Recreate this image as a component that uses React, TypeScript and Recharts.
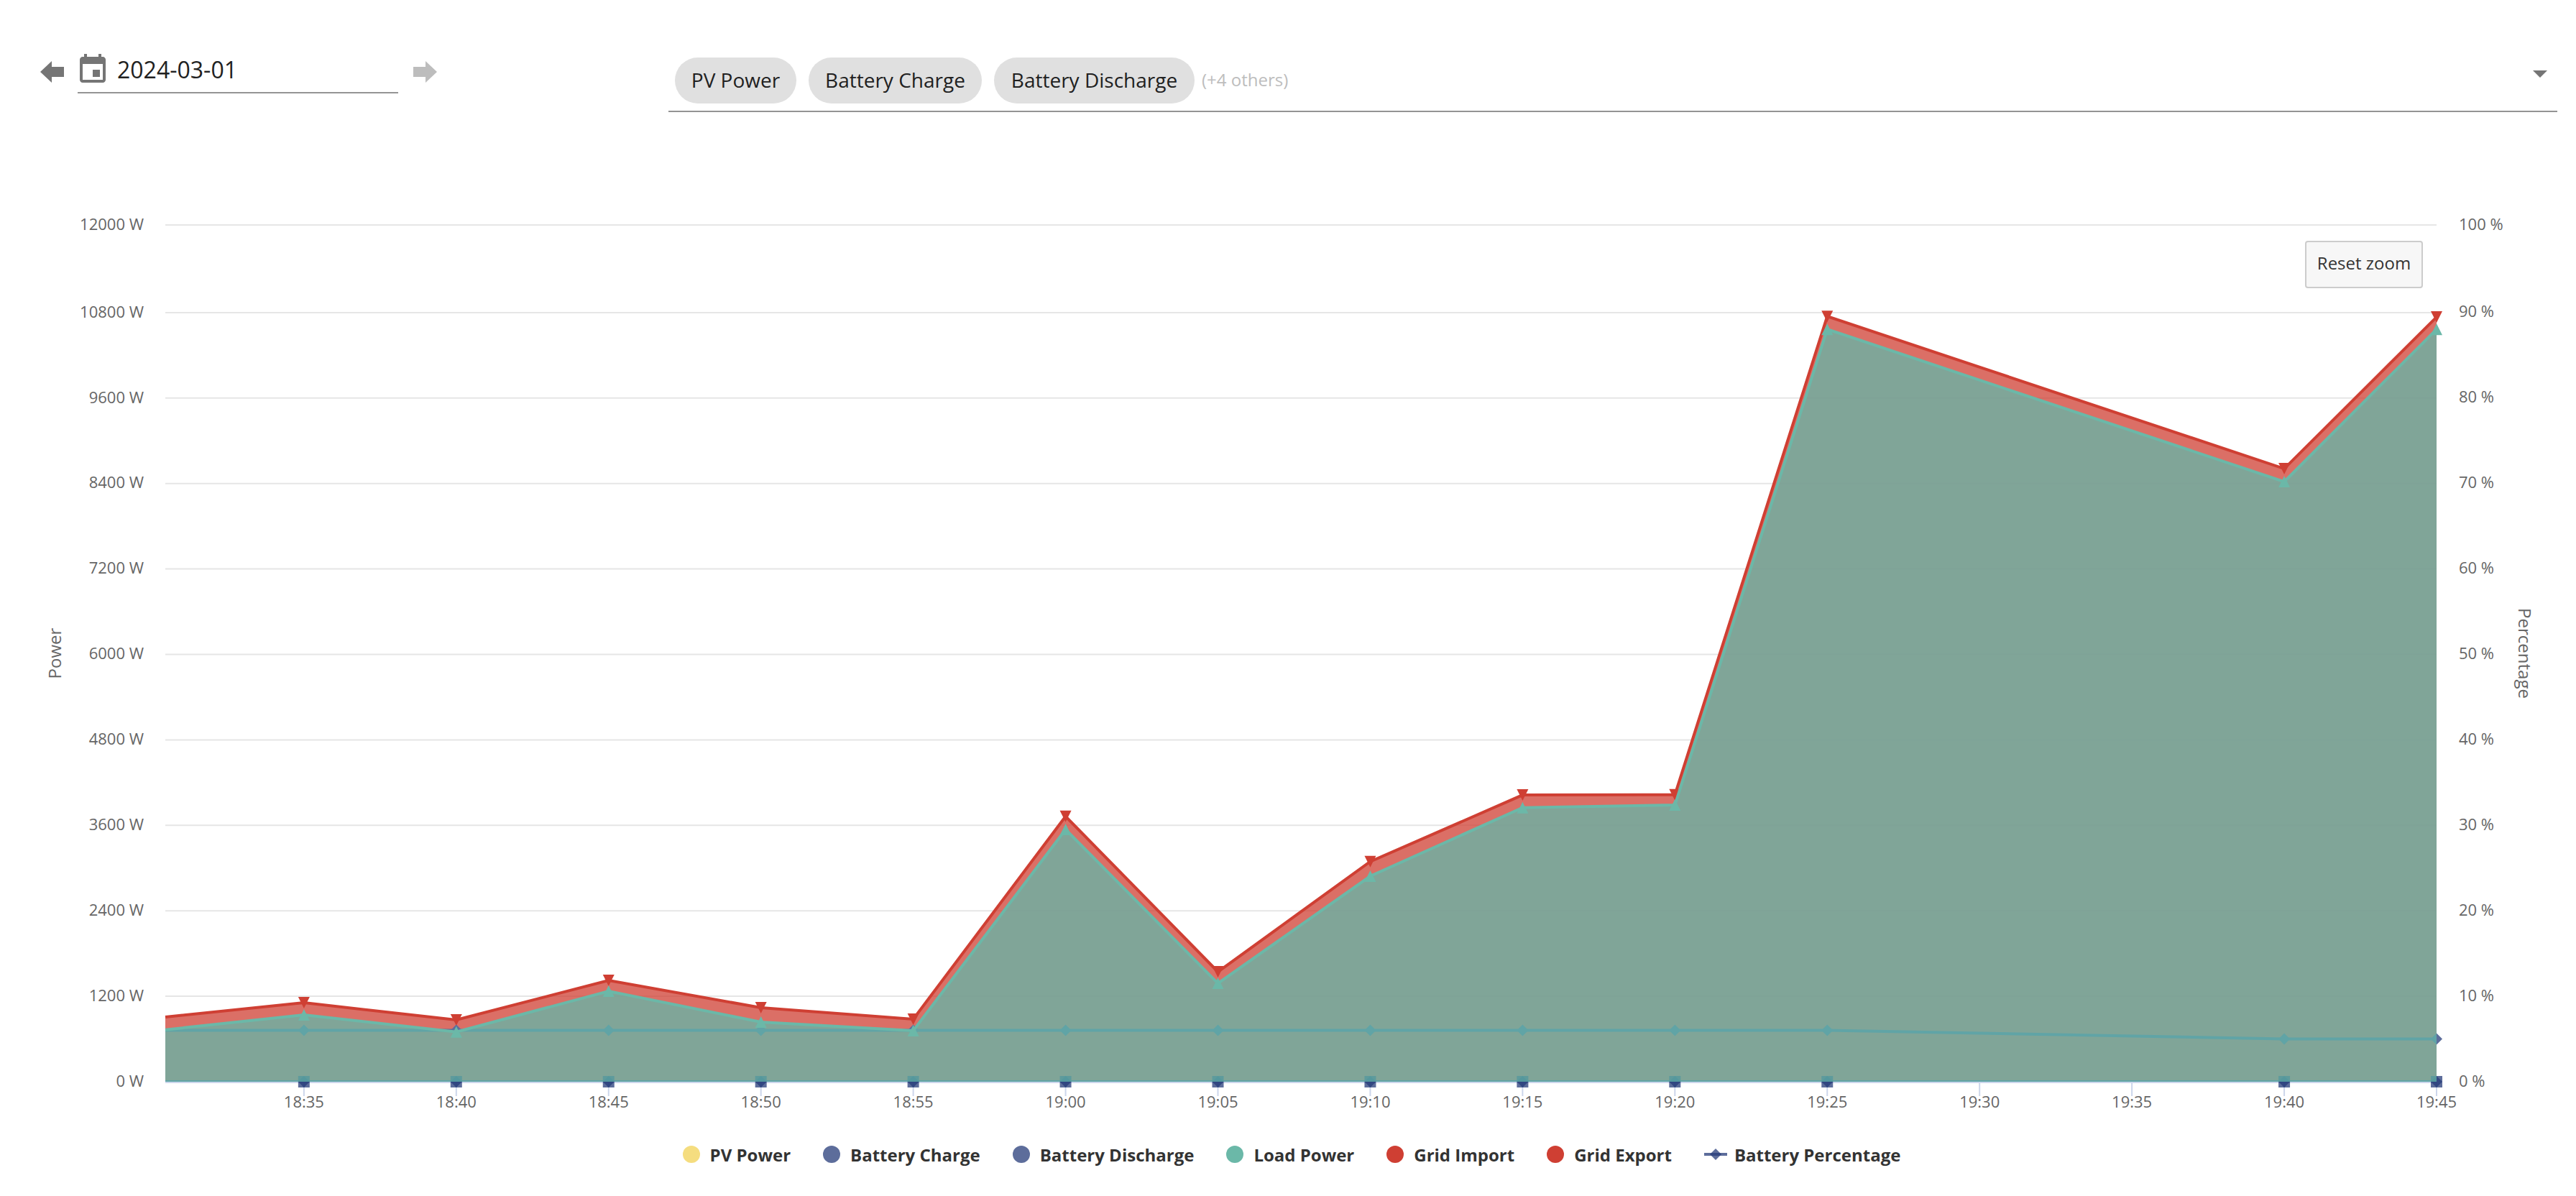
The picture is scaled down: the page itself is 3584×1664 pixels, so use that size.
import { ComposedChart, Area, Line, XAxis, YAxis, CartesianGrid, Legend } from 'recharts';

// first entry is where the zoomed view cuts the series at the left edge
const times = ['18:30:27', '18:35', '18:40', '18:45', '18:50', '18:55', '19:00', '19:05', '19:10', '19:15', '19:20', '19:25', '19:40', '19:45'];
const loadPower = [730, 938, 699, 1271, 837, 716, 3542, 1382, 2886, 3848, 3885, 10565, 8426, 10565];
const gridImport = [908, 1109, 868, 1423, 1039, 878, 3726, 1544, 3091, 4026, 4029, 10747, 8608, 10737];
const batteryCharge = [0, 0, 0, 0, 0, 0, 0, 0, 0, 0, 0, 0, 0, 0];
const batteryDischarge = [0, 0, 0, 0, 0, 0, 0, 0, 0, 0, 0, 0, 0, 0];
const batteryPercentage = [6, 6, 6, 6, 6, 6, 6, 6, 6, 6, 6, 6, 5, 5];

const xTickLabels = ['18:35', '18:40', '18:45', '18:50', '18:55', '19:00', '19:05', '19:10', '19:15', '19:20', '19:25', '19:30', '19:35', '19:40', '19:45'];
// top of both axes sits slightly above the round value
const powerTicks = [0, 1200, 2400, 3600, 4800, 6000, 7200, 8400, 9600, 10800, 12030];
const percentTicks = [0, 10, 20, 30, 40, 50, 60, 70, 80, 90, 100.16];
const legendNames = ['PV Power', 'Battery Charge', 'Battery Discharge', 'Load Power', 'Grid Import', 'Grid Export', 'Battery Percentage'];
const legendColors = ['#f5dd7f', '#5d6d9b', '#5d6d9b', '#6bb8a8', '#cf3f33', '#cf3f33', '#5d6d9b'];

const toMinutes = (t: string) => {
  const [h, m, s] = t.split(':').map(Number);
  return (h - 18) * 60 + m + (s || 0) / 60;
};

const fromMinutes = (v: number) => {
  const h = 18 + Math.floor(v / 60);
  const m = Math.round(v % 60);
  return `${h}:${String(m).padStart(2, '0')}`;
};

const chartData = times.map((t, i) => ({
  minute: toMinutes(t),
  load: loadPower[i],
  gridImport: gridImport[i],
  charge: batteryCharge[i],
  discharge: batteryDischarge[i],
  percent: batteryPercentage[i],
}));

const makeDot = (shape: string, fill: string, opacity = 1) => (props: any) => {
  const { cx, cy, index } = props;
  if (index === 0 || cx == null || cy == null) return <g key={index} />;
  const r = 8;
  const pts: Record<string, string> = {
    up: `${cx},${cy - r} ${cx + r},${cy + r} ${cx - r},${cy + r}`,
    down: `${cx - r},${cy - r} ${cx + r},${cy - r} ${cx},${cy + r}`,
    diamond: `${cx},${cy - r} ${cx + r},${cy} ${cx},${cy + r} ${cx - r},${cy}`,
    square: `${cx - r},${cy - r} ${cx + r},${cy - r} ${cx + r},${cy + r} ${cx - r},${cy + r}`,
  };
  return <polygon key={index} points={pts[shape]} fill={fill} fillOpacity={opacity} />;
};

const tickStyle = { fontSize: 22, fill: '#666666', fontFamily: 'Open Sans' };
const yTickStyle = { ...tickStyle, dy: -1 };
const titleStyle = { fontSize: 24, fill: '#666666', fontFamily: 'Open Sans', textAnchor: 'middle' as const };
const chartStyle = { position: 'absolute' as const, left: 0, top: 0 };
// zero lines stay behind the load fill, the axis line shows just below them
const zeroLineStyle = { transform: 'translateY(-1px)' };

function ChartLegend() {
  return (
    <div style={{ display: 'flex', justifyContent: 'center', alignItems: 'center', height: 64, marginLeft: -26, fontFamily: 'Open Sans', fontSize: 24, fontWeight: 700, color: '#333333' }}>
      {legendNames.map((name, i) => (
        <div key={name} style={{ display: 'flex', alignItems: 'center', marginRight: i < legendNames.length - 1 ? 45 : 0 }}>
          {name === 'Battery Percentage' ? (
            <svg width={32} height={24} style={{ marginRight: 10 }}>
              <rect x={0} y={10} width={32} height={4} fill={legendColors[i]} />
              <polygon points="16,4 24,12 16,20 8,12" fill="#273c7a" fillOpacity={0.75} />
            </svg>
          ) : (
            <svg width={24} height={24} style={{ marginRight: 14 }}>
              <circle cx={12} cy={12} r={12} fill={legendColors[i]} />
            </svg>
          )}
          <span>{name}</span>
        </div>
      ))}
    </div>
  );
}

const chip = (text: string, left: number, width: number) => (
  <div style={{ position: 'absolute', left, top: 80, width, height: 64, borderRadius: 32, background: '#e0e0e0', color: '#212121', fontSize: 28, lineHeight: '62px', textAlign: 'center' }}>
    {text}
  </div>
);

export default function App() {
  return (
    <div style={{ position: 'absolute', left: 0, top: 0, width: 3584, height: 1664, background: '#fff', fontFamily: 'Open Sans', overflow: 'hidden' }}>
      {/* date picker */}
      <svg style={{ position: 'absolute', left: 50, top: 80 }} width={44} height={40}>
        <polygon points="6,20 22,5 22,13 39,13 39,27 22,27 22,35" fill="#757575" />
      </svg>
      <svg style={{ position: 'absolute', left: 105, top: 73 }} width={48} height={48} viewBox="0 0 24 24">
        <path d="M17 12h-5v5h5v-5zM16 1v2H8V1H6v2H5c-1.11 0-1.99.9-1.99 2L3 19c0 1.1.89 2 2 2h14c1.1 0 2-.9 2-2V5c0-1.1-.9-2-2-2h-1V1h-2zm3 18H5V8h14v11z" fill="#757575" />
      </svg>
      <div style={{ position: 'absolute', left: 163, top: 75, fontSize: 32, lineHeight: '44px', color: '#212121' }}>2024-03-01</div>
      <div style={{ position: 'absolute', left: 108, top: 128, width: 446, height: 2, background: '#949494' }} />
      <svg style={{ position: 'absolute', left: 570, top: 80 }} width={44} height={40}>
        <polygon points="38,20 22,5 22,13 5,13 5,27 22,27 22,35" fill="#bdbdbd" />
      </svg>

      {/* series selector */}
      {chip('PV Power', 939, 169)}
      {chip('Battery Charge', 1125, 241)}
      {chip('Battery Discharge', 1383, 279)}
      <div style={{ position: 'absolute', left: 1672, top: 94, fontSize: 24, lineHeight: '34px', color: '#bdbdbd' }}>(+4 others)</div>
      <div style={{ position: 'absolute', left: 930, top: 154, width: 2628, height: 2, background: '#949494' }} />
      <svg style={{ position: 'absolute', left: 3524, top: 98 }} width={20} height={10}>
        <polygon points="0,0 20,0 10,10" fill="#757575" />
      </svg>

      {/* load area has to cover the battery lines, so it gets its own layer on top */}
      <ComposedChart width={3584} height={1664} data={chartData} margin={{ top: 313, right: 194, bottom: 26, left: 230 }} style={chartStyle}>
        <CartesianGrid horizontal vertical={false} yAxisId="power" stroke="#e6e6e6" strokeWidth={2} />
        <XAxis
          dataKey="minute"
          type="number"
          domain={['dataMin', 'dataMax']}
          ticks={xTickLabels.map(toMinutes)}
          tickFormatter={fromMinutes}
          interval={0}
          height={69}
          tick={tickStyle}
          tickSize={20}
          tickMargin={0}
          tickLine={{ stroke: '#ccd6eb', strokeWidth: 2 }}
          axisLine={{ stroke: '#ccd6eb', strokeWidth: 2, style: { transform: 'translateY(1px)' } }}
          zIndex={50}
        />
        <YAxis hide yAxisId="power" domain={[0, 12030]} ticks={powerTicks} interval={0} />
        <YAxis hide yAxisId="percent" orientation="right" domain={[0, 100.16]} />
        <Area yAxisId="power" dataKey="gridImport" name="Grid Import" stroke="#cf3f33" strokeWidth={4} fill="#cf3f33" fillOpacity={0.75} dot={makeDot('down', '#cf3f33')} isAnimationActive={false} />
        <Line yAxisId="percent" dataKey="percent" name="Battery Percentage" stroke="#5d6d9b" strokeWidth={4} dot={makeDot('diamond', '#5d6d9b')} isAnimationActive={false} />
        <Line yAxisId="power" dataKey="charge" name="Battery Charge" stroke="#5d6d9b" strokeWidth={2} style={zeroLineStyle} dot={makeDot('square', '#273c7a', 0.75)} isAnimationActive={false} />
        <Line yAxisId="power" dataKey="discharge" name="Battery Discharge" stroke="#5d6d9b" strokeWidth={2} style={zeroLineStyle} dot={makeDot('diamond', '#273c7a', 0.75)} isAnimationActive={false} />
        <Legend verticalAlign="bottom" height={64} content={<ChartLegend />} />
      </ComposedChart>

      <ComposedChart width={3584} height={1664} data={chartData} margin={{ top: 313, right: 0, bottom: 159, left: 0 }} style={chartStyle}>
        <XAxis hide dataKey="minute" type="number" domain={['dataMin', 'dataMax']} />
        <YAxis
          yAxisId="power"
          width={230}
          domain={[0, 12030]}
          ticks={powerTicks}
          interval={0}
          tickFormatter={(v: number) => `${Math.round(v / 100) * 100} W`}
          tick={yTickStyle}
          tickLine={false}
          axisLine={false}
          tickSize={0}
          tickMargin={30}
          label={{ value: 'Power', angle: -90, position: 'insideLeft', offset: 76, style: titleStyle }}
        />
        <YAxis
          yAxisId="percent"
          orientation="right"
          width={194}
          domain={[0, 100.16]}
          ticks={percentTicks}
          interval={0}
          tickFormatter={(v: number) => `${Math.round(v / 10) * 10} %`}
          tick={yTickStyle}
          tickLine={false}
          axisLine={false}
          tickSize={0}
          tickMargin={31}
          label={{ value: 'Percentage', angle: 90, position: 'insideRight', offset: 71, style: titleStyle }}
        />
        {/* no stroke: only keeps the percent axis active in this layer */}
        <Line yAxisId="percent" dataKey="percent" stroke="none" dot={false} activeDot={false} legendType="none" isAnimationActive={false} />
        <Area yAxisId="power" dataKey="load" name="Load Power" stroke="#6bb8a8" strokeWidth={4} fill="#62b7aa" fillOpacity={0.75} dot={makeDot('up', '#6bb8a8')} isAnimationActive={false} />
      </ComposedChart>

      <div style={{ position: 'absolute', left: 3207, top: 335, width: 164, height: 66, boxSizing: 'border-box', background: '#f7f7f7', border: '2px solid #cccccc', borderRadius: 4, fontSize: 24, lineHeight: '58px', textAlign: 'center', color: '#333333' }}>
        Reset zoom
      </div>
    </div>
  );
}
